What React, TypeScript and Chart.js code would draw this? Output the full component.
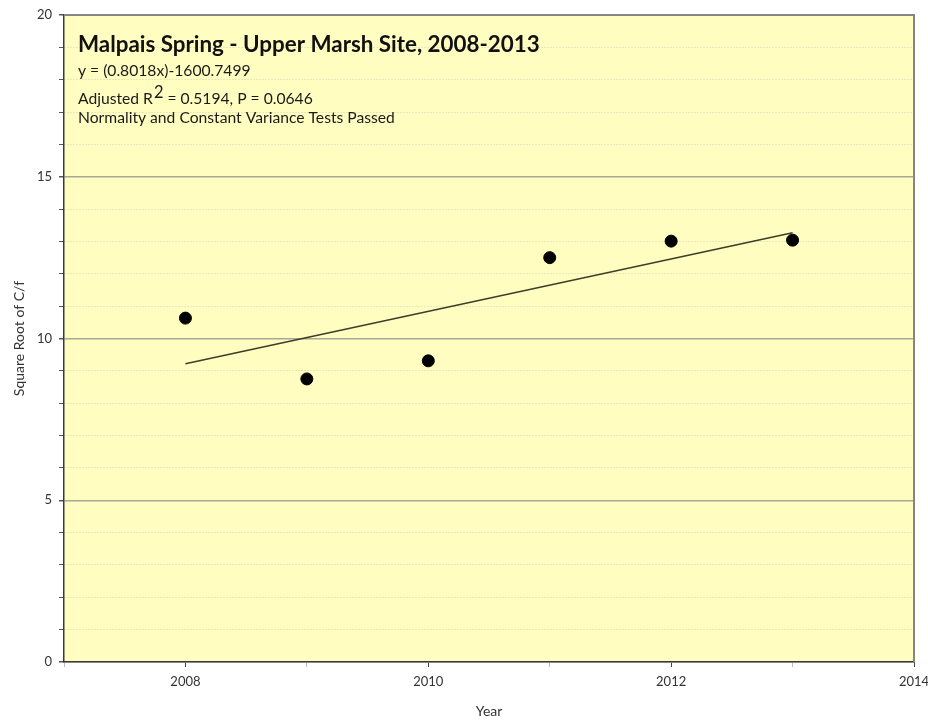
import React, { useEffect, useRef } from "react";
import { Chart, registerables } from "chart.js";

Chart.register(...registerables);

const years = [2008, 2009, 2010, 2011, 2012, 2013];
const sqrtCf = [10.63, 8.75, 9.31, 12.5, 13.01, 13.04];
const trendYears = [2008, 2013];
const trendValues = [9.22, 13.27];

const titleText = "Malpais Spring - Upper Marsh Site, 2008-2013";
const equationText = "y = (0.8018x)-1600.7499";
const r2Prefix = "Adjusted R";
const r2Sup = "2";
const r2Suffix = " = 0.5194, P = 0.0646";
const testsText = "Normality and Constant Variance Tests Passed";
const xTitle = "Year";
const yTitle = "Square Root of C/f";

const FONT = "Lato, 'Open Sans', sans-serif";

function fitSize(ctx: CanvasRenderingContext2D, text: string, weight: string, target: number) {
  ctx.font = `${weight} 20px ${FONT}`;
  const w = ctx.measureText(text).width;
  return (20 * target) / w;
}

const plotDecor = {
  id: "plotDecor",
  beforeDraw(chart: any) {
    const { ctx, chartArea: a } = chart;
    ctx.save();
    ctx.fillStyle = "#FFFDBF";
    ctx.fillRect(a.left, a.top, a.right - a.left, a.bottom - a.top);
    ctx.restore();
  },
  afterDraw(chart: any) {
    const { ctx, chartArea: a } = chart;
    ctx.save();
    ctx.strokeStyle = "#858585";
    ctx.lineWidth = 2;
    ctx.beginPath();
    ctx.moveTo(a.left, a.top);
    ctx.lineTo(a.right, a.top);
    ctx.lineTo(a.right, a.bottom);
    ctx.stroke();

    const x0 = a.left + 14;
    ctx.fillStyle = "#111";
    ctx.textBaseline = "alphabetic";
    ctx.textAlign = "left";
    const ts = fitSize(ctx, titleText, "bold", 462);
    ctx.font = `bold ${ts}px ${FONT}`;
    ctx.fillText(titleText, x0, a.top + 37);

    const ss = fitSize(ctx, testsText, "normal", 317);
    ctx.font = `normal ${ss}px ${FONT}`;
    ctx.fillStyle = "#1a1a1a";
    ctx.fillText(equationText, x0, a.top + 61);
    let x = x0;
    const yB = a.top + 89;
    ctx.fillText(r2Prefix, x, yB);
    x += ctx.measureText(r2Prefix).width + 1;
    ctx.font = `normal ${ss * 1.05}px ${FONT}`;
    ctx.fillText(r2Sup, x, yB - 6);
    x += ctx.measureText(r2Sup).width;
    ctx.font = `normal ${ss}px ${FONT}`;
    ctx.fillText(r2Suffix, x, yB);
    ctx.fillText(testsText, x0, a.top + 108);
    ctx.restore();
  },
};

export default function App() {
  const ref = useRef<HTMLCanvasElement | null>(null);
  useEffect(() => {
    if (!ref.current) return;
    const chart = new Chart(ref.current, {
      type: "scatter",
      data: {
        datasets: [
          {
            label: "Trend",
            data: trendYears.map((y, i) => ({ x: y, y: trendValues[i] })),
            showLine: true,
            borderColor: "#3d3d2a",
            borderWidth: 1.5,
            pointRadius: 0,
            order: 2,
          } as any,
          {
            label: "Square Root of C/f",
            data: years.map((y, i) => ({ x: y, y: sqrtCf[i] })),
            backgroundColor: "#000",
            borderColor: "#000",
            pointRadius: 6,
            order: 1,
          },
        ],
      },
      options: {
        responsive: false,
        animation: false,
        layout: { padding: { top: 15, right: 14, left: 0, bottom: 0 } },
        plugins: { legend: { display: false }, tooltip: { enabled: false } },
        scales: {
          x: {
            type: "linear",
            min: 2007,
            max: 2014,
            afterFit: (s: any) => {
              s.height = 62;
              s.paddingRight = 0;
              s.paddingLeft = 0;
            },
            ticks: {
              stepSize: 1,
              autoSkip: false,
              maxRotation: 0,
              padding: 7,
              color: "#333",
              font: { family: FONT, size: 13 },
              callback: (v: any) => (Number(v) % 2 === 0 ? String(v) : ""),
            },
            grid: {
              drawOnChartArea: false,
              drawTicks: true,
              tickLength: 5,
              tickColor: (c: any) => (c.tick && c.tick.value % 2 === 0 ? "#444" : "#bbb"),
            },
            border: { display: true, color: "#3a3a3a", width: 1.5 },
            title: {
              display: true,
              text: xTitle,
              color: "#333",
              font: { family: FONT, size: 14 },
              padding: { top: 0, bottom: 4 },
            },
          },
          y: {
            min: 0,
            max: 20,
            afterFit: (s: any) => {
              s.width = 64;
              s.paddingTop = 0;
              s.paddingBottom = 0;
            },
            ticks: {
              stepSize: 1,
              autoSkip: false,
              padding: 7,
              color: "#333",
              font: { family: FONT, size: 13 },
              callback: (v: any) => (Number(v) % 5 === 0 ? String(v) : ""),
            },
            grid: {
              drawTicks: true,
              tickLength: 5,
              tickColor: "#555",
              color: (c: any) => (c.tick && c.tick.value % 5 === 0 ? "#a8a898" : "#d2d2b8"),
              lineWidth: (c: any) => (c.tick && c.tick.value % 5 === 0 ? 1.5 : 1),
            },
            border: {
              display: true,
              color: "#3a3a3a",
              width: 1.5,
              dash: (c: any) => (c.tick && c.tick.value % 5 !== 0 ? [1, 2] : []),
            } as any,
            title: {
              display: true,
              text: yTitle,
              color: "#333",
              font: { family: FONT, size: 14 },
              padding: { top: 11, bottom: 0 },
            },
          },
        },
      },
      plugins: [plotDecor],
    });
    return () => chart.destroy();
  }, []);
  return (
    <div style={{ position: "fixed", left: 0, top: 0, width: 928, height: 724, background: "#fff" }}>
      <canvas ref={ref} width={928} height={724} />
    </div>
  );
}
